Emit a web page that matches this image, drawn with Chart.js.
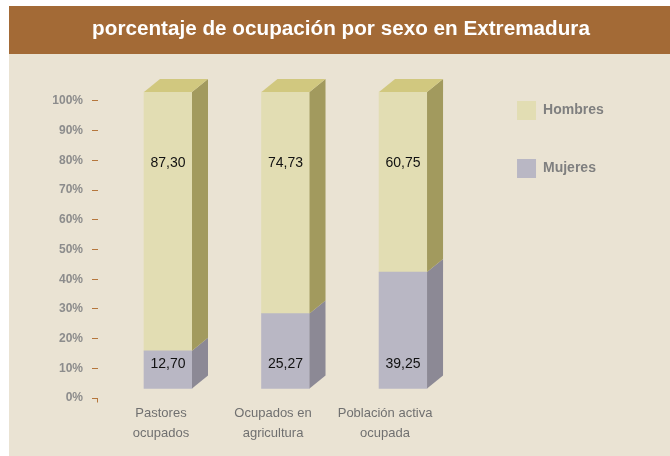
<!DOCTYPE html>
<html lang="es">
<head>
<meta charset="utf-8">
<title>porcentaje de ocupación por sexo en Extremadura</title>
<script src="https://cdn.jsdelivr.net/npm/chart.js@4.4.1/dist/chart.umd.min.js"></script>
<style>
  html, body { margin: 0; padding: 0; background: #ffffff; }
  #grafico-ocupacion { display: block; }
</style>
</head>
<body>
<canvas id="grafico-ocupacion" width="670" height="456"></canvas>
<script>
// datos del gráfico
const tituloGrafico = 'porcentaje de ocupación por sexo en Extremadura';
const categorias = [['Pastores', 'ocupados'], ['Ocupados en', 'agricultura'], ['Población activa', 'ocupada']];
const hombres = [87.30, 74.73, 60.75];
const mujeres = [12.70, 25.27, 39.25];
const marcasY = [0, 10, 20, 30, 40, 50, 60, 70, 80, 90, 100];

// profundidad del efecto 3D
const FONDO_X = 16;
const FONDO_Y = 13;
const carasLaterales = ['#8C8995', '#A29A5E'];
const carasSuperiores = ['#A7A4B2', '#D1C87F'];

const FUENTE = "'Liberation Sans', Arial, sans-serif";
Chart.defaults.font.family = FUENTE;

function formatearValor(valor) {
  return new Intl.NumberFormat('es-ES', {
    minimumFractionDigits: 2,
    maximumFractionDigits: 2
  }).format(valor);
}

// fondo beige + banda marrón con el título
const fondoBanner = {
  id: 'fondoBanner',
  beforeDraw(chart) {
    const ctx = chart.ctx;
    ctx.save();
    ctx.fillStyle = '#ffffff';
    ctx.fillRect(0, 0, chart.width, chart.height);
    ctx.fillStyle = '#EAE3D3';
    ctx.fillRect(9, 54, chart.width - 9, chart.height - 54);
    ctx.fillStyle = '#A36A36';
    ctx.fillRect(9, 6, chart.width - 9, 48);
    ctx.fillStyle = '#ffffff';
    ctx.font = 'bold 20.7px ' + FUENTE;
    ctx.textAlign = 'center';
    ctx.textBaseline = 'middle';
    ctx.fillText(tituloGrafico, 341, 29);
    ctx.restore();
  }
};

const barras3d = {
  id: 'barras3d',
  afterDatasetsDraw(chart) {
    const ctx = chart.ctx;
    const ultimo = chart.data.datasets.length - 1;
    ctx.save();
    chart.data.datasets.forEach((ds, i) => {
      chart.getDatasetMeta(i).data.forEach(barra => {
        const { x, y, base, width } = barra.getProps(['x', 'y', 'base', 'width'], true);
        const izq = x - width / 2;
        const der = x + width / 2;

        ctx.fillStyle = carasLaterales[i];
        ctx.beginPath();
        ctx.moveTo(der, y);
        ctx.lineTo(der + FONDO_X, y - FONDO_Y);
        ctx.lineTo(der + FONDO_X, base - FONDO_Y);
        ctx.lineTo(der, base);
        ctx.closePath();
        ctx.fill();

        if (i === ultimo) {
          ctx.fillStyle = carasSuperiores[i];
          ctx.beginPath();
          ctx.moveTo(izq, y);
          ctx.lineTo(izq + FONDO_X, y - FONDO_Y);
          ctx.lineTo(der + FONDO_X, y - FONDO_Y);
          ctx.lineTo(der, y);
          ctx.closePath();
          ctx.fill();
        }
      });
    });

    // esquina del eje en 0%
    const escY = chart.scales.y;
    const y0 = Math.round(escY.getPixelForValue(0)) + 0.5;
    ctx.strokeStyle = '#B5763C';
    ctx.lineWidth = 1;
    ctx.beginPath();
    ctx.moveTo(escY.right - 0.5, y0);
    ctx.lineTo(escY.right - 0.5, y0 + 4);
    ctx.stroke();
    ctx.restore();
  }
};

const etiquetasValor = {
  id: 'etiquetasValor',
  afterDatasetsDraw(chart) {
    const ctx = chart.ctx;
    ctx.save();
    ctx.font = '14px ' + FUENTE;
    ctx.fillStyle = '#111111';
    ctx.textAlign = 'center';
    ctx.textBaseline = 'middle';
    chart.data.datasets.forEach((ds, i) => {
      chart.getDatasetMeta(i).data.forEach((barra, j) => {
        const { x, y, base } = barra.getProps(['x', 'y', 'base'], true);
        // mujeres abajo, hombres arriba
        const posY = i === 0 ? base - 24.5 : y + 71;
        ctx.fillText(formatearValor(ds.data[j].y), x, posY);
      });
    });
    ctx.restore();
  }
};

function desenharGraficoOcupacion() {
  const ctx = document.getElementById('grafico-ocupacion');
  if (!ctx) {
    console.warn("Canvas 'grafico-ocupacion' no encontrado");
    return;
  }

  new Chart(ctx, {
    type: 'bar',
    data: {
      datasets: [{
        label: 'Mujeres',
        data: mujeres.map((v, i) => ({ x: i, y: v })),
        backgroundColor: '#B9B7C4',
        borderWidth: 0,
        xAxisID: 'x',
        yAxisID: 'yb'
      }, {
        label: 'Hombres',
        data: hombres.map((v, i) => ({ x: i, y: v })),
        backgroundColor: '#E2DDB3',
        borderWidth: 0,
        xAxisID: 'x',
        yAxisID: 'yb'
      }]
    },
    options: {
      responsive: false,
      devicePixelRatio: 1,
      animation: false,
      barThickness: 48,
      layout: { padding: { left: 0, right: 56.3, top: 62, bottom: 0 } },
      plugins: {
        title: { display: false },
        legend: {
          position: 'right',
          align: 'start',
          fullSize: false,
          reverse: true,
          labels: {
            boxWidth: 19,
            boxHeight: 19,
            padding: 39,
            color: '#7F7F7F',
            font: { size: 14, weight: 'bold' }
          }
        },
        tooltip: { enabled: false }
      },
      scales: {
        x: {
          type: 'linear',
          display: false,
          stacked: true,
          offset: false,
          min: -0.5957,
          max: 2.638
        },
        xl: {
          type: 'linear',
          position: 'bottom',
          offset: false,
          min: -0.5625,
          max: 2.83,
          afterBuildTicks: s => { s.ticks = categorias.map((c, i) => ({ value: i })); },
          afterFit: s => { s.height = 58; },
          grid: { display: false, drawTicks: false, offset: false },
          border: { display: false },
          ticks: {
            autoSkip: false,
            maxRotation: 0,
            padding: 5,
            color: '#707070',
            font: { size: 13, lineHeight: 1.55 },
            callback: v => categorias[v]
          }
        },
        y: {
          type: 'linear',
          position: 'left',
          min: 0,
          max: 113.13,
          afterBuildTicks: s => { s.ticks = marcasY.map(v => ({ value: v })); },
          afterFit: s => { s.width = 98; },
          grid: {
            drawOnChartArea: false,
            drawTicks: true,
            tickLength: 6,
            color: '#B5763C',
            lineWidth: 1
          },
          border: { display: false },
          ticks: {
            padding: 9,
            color: '#8C8C8C',
            font: { size: 12, weight: 'bold' },
            callback: v => v + '%'
          }
        },
        yb: {
          type: 'linear',
          display: false,
          stacked: true,
          min: -3.204,
          max: 110.118
        }
      }
    },
    plugins: [fondoBanner, barras3d, etiquetasValor]
  });
}

desenharGraficoOcupacion();
</script>
</body>
</html>
